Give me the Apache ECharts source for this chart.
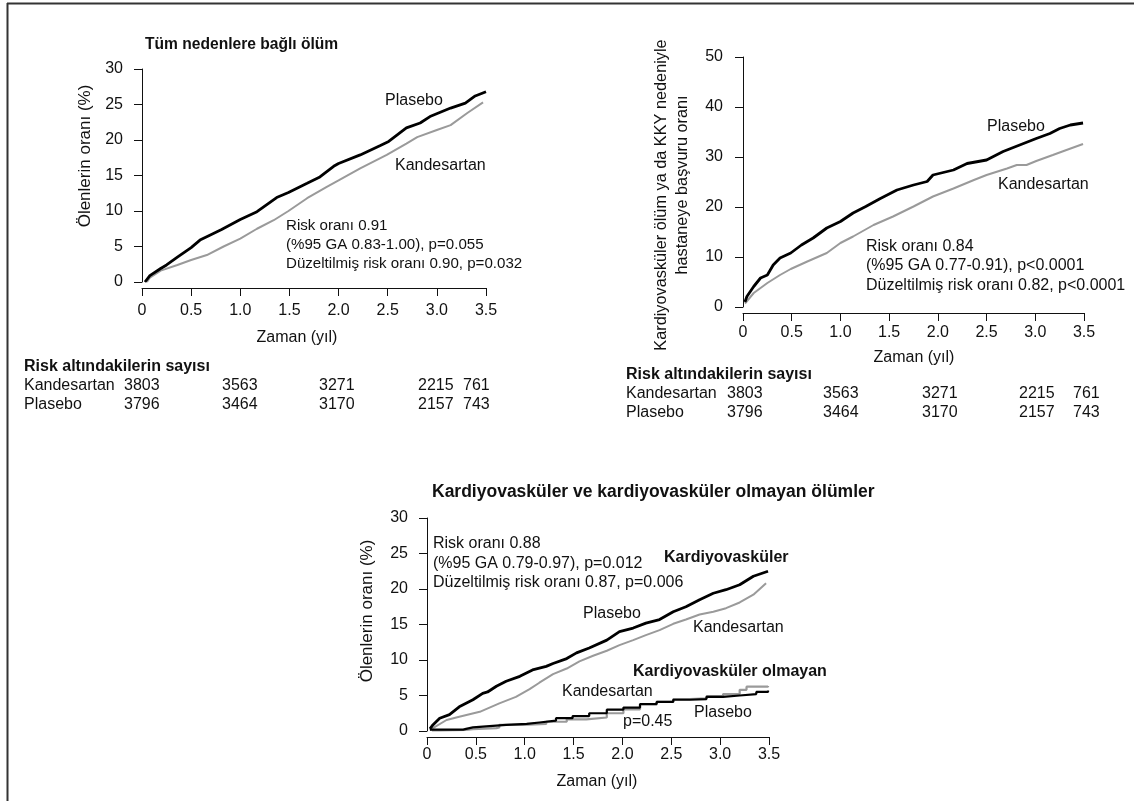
<!DOCTYPE html>
<html>
<head>
<meta charset="utf-8">
<script src="https://cdn.jsdelivr.net/npm/echarts@6/dist/echarts.min.js"></script>
<style>
html,body{margin:0;padding:0;background:#fff;}
#main{width:1134px;height:801px;}
</style>
</head>
<body>
<div id="main"></div>
<script>
// ---------- DATA ----------
// Chart 1: all-cause death (% died) vs time (years)
var allCausePlacebo = [[0.03,0],[0.08,0.9],[0.19,1.9],[0.25,2.4],[0.36,3.5],[0.5,4.85],[0.59,5.9],[0.69,6.6],[0.81,7.4],[1.0,8.8],[1.17,9.9],[1.37,11.9],[1.49,12.6],[1.68,13.9],[1.81,14.8],[1.95,16.3],[2.0,16.7],[2.22,17.9],[2.42,19.2],[2.51,19.8],[2.69,21.7],[2.83,22.4],[2.93,23.3],[3.14,24.5],[3.29,25.2],[3.39,26.2],[3.5,26.8]];
var allCauseCand = [[0.05,0],[0.08,0.6],[0.19,1.6],[0.36,2.4],[0.5,3.1],[0.66,3.8],[0.83,5.0],[1.0,6.1],[1.17,7.5],[1.34,8.7],[1.49,10.0],[1.68,11.8],[1.88,13.4],[2.0,14.3],[2.22,16.0],[2.49,17.9],[2.69,19.5],[2.8,20.4],[3.0,21.4],[3.14,22.1],[3.31,23.8],[3.47,25.3]];
// Chart 2: CV death or CHF hospitalisation
var cvHospPlacebo = [[0.02,1.0],[0.04,2.1],[0.11,4.1],[0.18,5.8],[0.25,6.4],[0.31,8.4],[0.38,9.8],[0.49,10.8],[0.6,12.4],[0.72,13.8],[0.86,15.8],[1.0,17.1],[1.13,18.8],[1.26,20.1],[1.41,21.7],[1.58,23.4],[1.75,24.4],[1.89,25.1],[1.95,26.4],[2.16,27.4],[2.3,28.7],[2.5,29.4],[2.67,31.1],[2.84,32.4],[3.01,33.7],[3.15,34.7],[3.25,35.7],[3.36,36.4],[3.49,36.8]];
var cvHospCand = [[0.02,0.7],[0.11,2.8],[0.25,4.8],[0.38,6.4],[0.49,7.6],[0.66,9.1],[0.86,10.8],[1.0,12.8],[1.13,14.1],[1.34,16.4],[1.54,18.1],[1.75,20.1],[1.95,22.1],[2.16,23.7],[2.37,25.4],[2.5,26.4],[2.71,27.7],[2.81,28.4],[2.91,28.4],[3.01,29.2],[3.18,30.4],[3.32,31.4],[3.49,32.6]];
// Chart 3: CV and non-CV deaths
var cvPlacebo = [[0.03,0.3],[0.06,0.85],[0.13,1.8],[0.23,2.3],[0.33,3.4],[0.47,4.4],[0.57,5.3],[0.62,5.5],[0.71,6.3],[0.81,7.0],[0.95,7.7],[1.08,8.6],[1.22,9.1],[1.29,9.5],[1.43,10.2],[1.53,11.0],[1.66,11.7],[1.84,12.8],[1.97,14.0],[2.11,14.5],[2.24,15.2],[2.38,15.7],[2.52,16.8],[2.65,17.5],[2.79,18.5],[2.93,19.4],[3.06,19.9],[3.2,20.6],[3.34,21.8],[3.49,22.5]];
var cvCand = [[0.03,0.1],[0.06,0.4],[0.2,1.55],[0.33,2.0],[0.54,2.7],[0.74,3.9],[0.91,4.8],[1.05,5.9],[1.15,6.8],[1.29,8.0],[1.43,8.8],[1.56,9.8],[1.7,10.6],[1.84,11.3],[1.97,12.1],[2.11,12.8],[2.24,13.5],[2.38,14.2],[2.52,15.1],[2.65,15.7],[2.79,16.4],[2.93,16.8],[3.06,17.3],[3.2,18.1],[3.34,19.2],[3.47,20.8]];
var nonCvPlacebo = [[0.03,0.2],[0.37,0.3],[0.4,0.5],[0.47,0.7],[0.64,0.85],[0.81,1.0],[1.02,1.2],[1.15,1.45],[1.32,1.8],[1.49,2.1],[1.66,2.5],[1.84,3.0],[2.01,3.3],[2.18,3.8],[2.35,4.1],[2.52,4.4],[2.69,4.5],[2.86,4.8],[3.03,5.0],[3.2,5.2],[3.37,5.5],[3.49,5.7]];
var nonCvCand = [[0.05,0.1],[0.13,0.15],[0.4,0.25],[0.47,0.4],[0.71,0.5],[0.74,0.85],[0.98,1.0],[1.22,1.3],[1.43,1.65],[1.63,1.9],[1.84,2.5],[2.01,3.05],[2.18,3.7],[2.35,4.1],[2.52,4.5],[2.69,4.6],[2.86,4.9],[3.03,5.2],[3.2,5.8],[3.27,6.25],[3.49,6.35]];

// Risk tables (numbers at risk)
var riskCand = ['3803','3563','3271','2215','761'];
var riskPlac = ['3796','3464','3170','2157','743'];

// Axis ticks
var xTicks = ['0','0.5','1.0','1.5','2.0','2.5','3.0','3.5'];

// ---------- LAYOUT ----------
var FONT = '"Liberation Sans", Arial, Helvetica, sans-serif';
var INK = '#111';
var GRAY = '#9a9a9a';

var chart = echarts.init(document.getElementById('main'), null, {renderer:'canvas'});

function xAxisCfg(gi, margin){
  return {
    type:'value', gridIndex:gi, min:0, max:3.5, interval:0.5, offset:6,
    axisLine:{show:true, onZero:false, lineStyle:{color:INK, width:1}},
    axisTick:{show:true, length:8, lineStyle:{color:INK}},
    splitLine:{show:false},
    axisLabel:{color:INK, fontFamily:FONT, fontSize:16, margin:margin,
      formatter:function(v){ return xTicks[Math.round(v/0.5)]; }}
  };
}
function yAxisCfg(gi, max, interval, offset, margin){
  return {
    type:'value', gridIndex:gi, min:0, max:max, interval:interval, offset:offset,
    axisLine:{show:true, lineStyle:{color:INK, width:1}},
    axisTick:{show:true, length:8, lineStyle:{color:INK}},
    splitLine:{show:false},
    axisLabel:{color:INK, fontFamily:FONT, fontSize:16, margin:margin}
  };
}
function lineSeries(gi, data, color, width, step){
  return {
    type:'line', xAxisIndex:gi, yAxisIndex:gi, data:data, symbol:'none',
    step: step || false, animation:false,
    lineStyle:{color:color, width:width}
  };
}
function txt(x, y, s, opt){
  opt = opt || {};
  return {
    type:'text', x:x, y:y, rotation: opt.rot || 0, silent:true,
    style:{text:s, fill:INK, font:(opt.bold?'bold ':'') + (opt.size||16) + 'px ' + FONT,
      textAlign: opt.align || 'left', textVerticalAlign:'middle'}
  };
}

var graphics = [];
// frame lines
graphics.push({type:'line', shape:{x1:7, y1:3.5, x2:1134, y2:3.5}, style:{stroke:'#333', lineWidth:2}});
graphics.push({type:'line', shape:{x1:7.5, y1:3, x2:7.5, y2:801}, style:{stroke:'#333', lineWidth:2}});

// Chart 1 texts
graphics.push(txt(145, 45, 'Tüm nedenlere bağlı ölüm', {bold:true, size:15.6}));
graphics.push(txt(85, 156, 'Ölenlerin oranı (%)', {rot:Math.PI/2, align:'center', size:17}));
graphics.push(txt(297, 338, 'Zaman (yıl)', {align:'center'}));
graphics.push(txt(385, 101, 'Plasebo'));
graphics.push(txt(395, 166, 'Kandesartan'));
graphics.push(txt(286, 226, 'Risk oranı 0.91', {size:15.1}));
graphics.push(txt(286, 245, '(%95 GA 0.83-1.00), p=0.055', {size:15.1}));
graphics.push(txt(286, 264, 'Düzeltilmiş risk oranı 0.90, p=0.032', {size:15.1}));

// Chart 2 texts
graphics.push(txt(662, 195, 'Kardiyovasküler ölüm ya da KKY nedeniyle', {rot:Math.PI/2, align:'center', size:16.3}));
graphics.push(txt(683, 185, 'hastaneye başvuru oranı', {rot:Math.PI/2, align:'center', size:16.3}));
graphics.push(txt(914, 358, 'Zaman (yıl)', {align:'center'}));
graphics.push(txt(987, 127, 'Plasebo'));
graphics.push(txt(998, 185, 'Kandesartan'));
graphics.push(txt(866, 247, 'Risk oranı 0.84'));
graphics.push(txt(866, 266, '(%95 GA 0.77-0.91), p<0.0001'));
graphics.push(txt(866, 286, 'Düzeltilmiş risk oranı 0.82, p<0.0001'));

// Chart 3 texts
graphics.push(txt(432, 492, 'Kardiyovasküler ve kardiyovasküler olmayan ölümler', {bold:true, size:17.5}));
graphics.push(txt(367, 611, 'Ölenlerin oranı (%)', {rot:Math.PI/2, align:'center', size:17}));
graphics.push(txt(597, 782, 'Zaman (yıl)', {align:'center'}));
graphics.push(txt(433, 544, 'Risk oranı 0.88'));
graphics.push(txt(433, 564, '(%95 GA 0.79-0.97), p=0.012'));
graphics.push(txt(433, 583, 'Düzeltilmiş risk oranı 0.87, p=0.006'));
graphics.push(txt(664, 558, 'Kardiyovasküler', {bold:true}));
graphics.push(txt(583, 614, 'Plasebo'));
graphics.push(txt(693, 628, 'Kandesartan'));
graphics.push(txt(633, 672, 'Kardiyovasküler olmayan', {bold:true}));
graphics.push(txt(562, 692, 'Kandesartan'));
graphics.push(txt(694, 713, 'Plasebo'));
graphics.push(txt(623, 722, 'p=0.45'));

// Risk tables
var table1Cols = [124, 222, 319, 418, 463];
var table2Cols = [727, 823, 922, 1019, 1073];
function riskTable(x0, yHead, cols){
  graphics.push(txt(x0, yHead, 'Risk altındakilerin sayısı', {bold:true}));
  graphics.push(txt(x0, yHead+19, 'Kandesartan'));
  graphics.push(txt(x0, yHead+38, 'Plasebo'));
  for (var i=0;i<cols.length;i++){
    graphics.push(txt(cols[i], yHead+19, riskCand[i]));
    graphics.push(txt(cols[i], yHead+38, riskPlac[i]));
  }
}
riskTable(24, 367, table1Cols);
riskTable(626, 375, table2Cols);

var option = {
  backgroundColor:'#fff',
  animation:false,
  grid:[
    {left:142, top:69, width:344, height:213},
    {left:743, top:57, width:341, height:250},
    {left:427, top:518, width:342, height:213}
  ],
  xAxis:[xAxisCfg(0, 15), xAxisCfg(1, 12), xAxisCfg(2, 10)],
  yAxis:[yAxisCfg(0, 30, 5, 5, 14), yAxisCfg(1, 50, 10, 7, 13), yAxisCfg(2, 30, 5, 7, 12)],
  series:[
    lineSeries(0, allCauseCand, GRAY, 2),
    lineSeries(0, allCausePlacebo, '#000', 2.8),
    lineSeries(1, cvHospCand, GRAY, 2),
    lineSeries(1, cvHospPlacebo, '#000', 2.8),
    lineSeries(2, cvCand, GRAY, 2),
    lineSeries(2, cvPlacebo, '#000', 2.8),
    lineSeries(2, nonCvCand, GRAY, 2.2, 'end'),
    lineSeries(2, nonCvPlacebo, '#000', 2.2, 'end')
  ],
  graphic: graphics
};
chart.setOption(option);
</script>
</body>
</html>
